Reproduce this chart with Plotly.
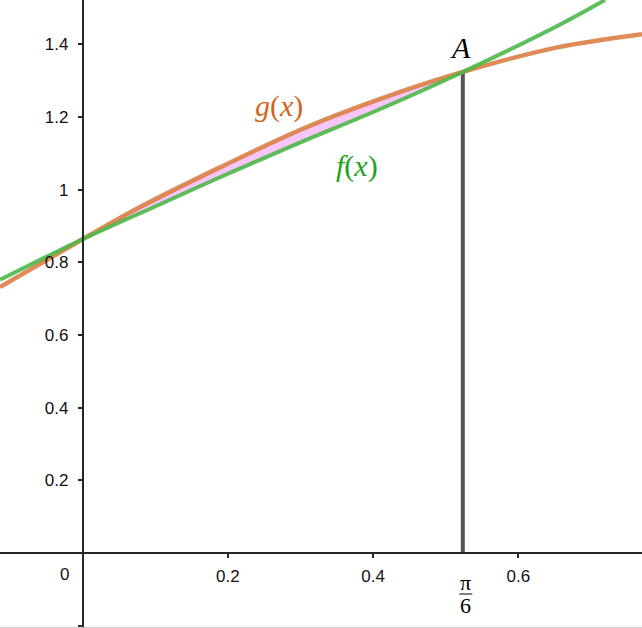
import math
import plotly.graph_objects as go

# ---- data ----
x_range = [-0.1136, 0.7703]
y_range = [-0.2064, 1.522]

f_x = [-0.1136, 0.0, 0.107, 0.19, 0.30, 0.41, 0.5236, 0.657, 0.7194]
f_y = [0.752, 0.8635, 0.960, 1.035, 1.130, 1.222, 1.324, 1.454, 1.522]

g_x = [-0.1136, 0.0, 0.0792, 0.19, 0.30, 0.41, 0.5236, 0.657, 0.7703]
g_y = [0.732, 0.8635, 0.952, 1.062, 1.165, 1.250, 1.324, 1.393, 1.428]

A_x = math.pi / 6
A_y = 1.324

x_ticks = [0.2, 0.4, 0.6]
x_tick_labels = ["0.2", "0.4", "0.6"]
y_ticks = [-0.2, 0.2, 0.4, 0.6, 0.8, 1.0, 1.2, 1.4]
y_tick_labels = ["", "0.2", "0.4", "0.6", "0.8", "1", "1.2", "1.4"]

ORANGE = "#db7f45"
GREEN = "#4db848"
AXIS = "#262626"

fig = go.Figure()

# shaded region between g (top) and f (bottom) for 0 <= x <= pi/6
tol = 1e-3
sg = [(x, y) for x, y in zip(g_x, g_y) if -tol <= x <= A_x + tol]
sf = [(x, y) for x, y in zip(f_x, f_y) if -tol <= x <= A_x + tol]
poly = sg + sf[::-1]
fig.add_trace(go.Scatter(
    x=[p[0] for p in poly], y=[p[1] for p in poly],
    mode="lines", fill="toself", line=dict(width=0, shape="spline", smoothing=0.6),
    fillcolor="rgba(240,150,240,0.55)", hoverinfo="skip", showlegend=False))

# vertical segment at x = pi/6
fig.add_trace(go.Scatter(x=[A_x, A_x], y=[0, A_y], mode="lines",
                         line=dict(color="#555555", width=4), showlegend=False))

fig.add_trace(go.Scatter(x=g_x, y=g_y, mode="lines",
                         line=dict(color=ORANGE, width=4.5, shape="spline", smoothing=0.8),
                         opacity=0.9, showlegend=False))
fig.add_trace(go.Scatter(x=f_x, y=f_y, mode="lines",
                         line=dict(color=GREEN, width=4, shape="spline", smoothing=0.8),
                         opacity=0.9, showlegend=False))

xpos = (0 - y_range[0]) / (y_range[1] - y_range[0])
ypos = (0 - x_range[0]) / (x_range[1] - x_range[0])

tickfont = dict(family="Liberation Sans, Arial, sans-serif", size=17, color="#111111")

fig.update_layout(
    width=642, height=628,
    margin=dict(l=0, r=0, t=0, b=0),
    paper_bgcolor="white", plot_bgcolor="white",
    xaxis=dict(range=x_range, anchor="free", position=xpos, showgrid=False, zeroline=False,
               showline=True, linecolor=AXIS, linewidth=1.5,
               ticks="outside", ticklen=4, tickwidth=1.5, tickcolor=AXIS,
               tickvals=x_ticks, ticktext=x_tick_labels, tickfont=tickfont,
               ticklabelstandoff=4, automargin=False, fixedrange=True),
    yaxis=dict(range=y_range, anchor="free", position=ypos, showgrid=False, zeroline=False,
               showline=True, linecolor=AXIS, linewidth=1.5,
               ticks="outside", ticklen=4, tickwidth=1.5, tickcolor=AXIS,
               tickvals=y_ticks, ticktext=y_tick_labels, tickfont=tickfont,
               ticklabelstandoff=6, automargin=False, fixedrange=True),
    showlegend=False,
)

serif = "Liberation Serif, DejaVu Serif, serif"
fig.add_annotation(x=0, y=0, text="0", showarrow=False, xanchor="right", yanchor="top",
                   xshift=-12, yshift=-10, font=tickfont)
fig.add_annotation(x=A_x, y=A_y, text="<i>A</i>", showarrow=False, yanchor="bottom",
                   xshift=-2, yshift=6, font=dict(family=serif, size=30, color="black"))
fig.add_annotation(x=0.2706, y=1.2304, text="<i>g</i>(<i>x</i>)", showarrow=False,
                   font=dict(family=serif, size=30, color="#d2651e"))
fig.add_annotation(x=0.378, y=1.065, text="<i>f</i>(<i>x</i>)", showarrow=False,
                   font=dict(family=serif, size=30, color="#22a022"))
# pi/6 tick label
fig.add_annotation(x=A_x, y=0, text="π", showarrow=False, yanchor="middle",
                   xshift=3, yshift=-29, font=dict(family=serif, size=22, color="black"))
fig.add_annotation(x=A_x, y=0, text="6", showarrow=False, yanchor="middle",
                   xshift=3, yshift=-52, font=dict(family=serif, size=22, color="black"))
fig.add_shape(type="line", xref="paper", yref="paper", x0=0, x1=1, y0=0.001, y1=0.001,
              line=dict(color="#c8c8c8", width=1))

# fraction bar for pi/6 label
bar_half = 6.5 / 726.3
bar_y = -41.0 / 363.3
fig.add_shape(type="line", xref="x", yref="y",
              x0=A_x - bar_half + 3 / 726.3, x1=A_x + bar_half + 3 / 726.3,
              y0=bar_y, y1=bar_y, line=dict(color="black", width=1))

fig.write_html("out.html", config={"displayModeBar": False},
               post_script="document.body.style.margin='0px';")
